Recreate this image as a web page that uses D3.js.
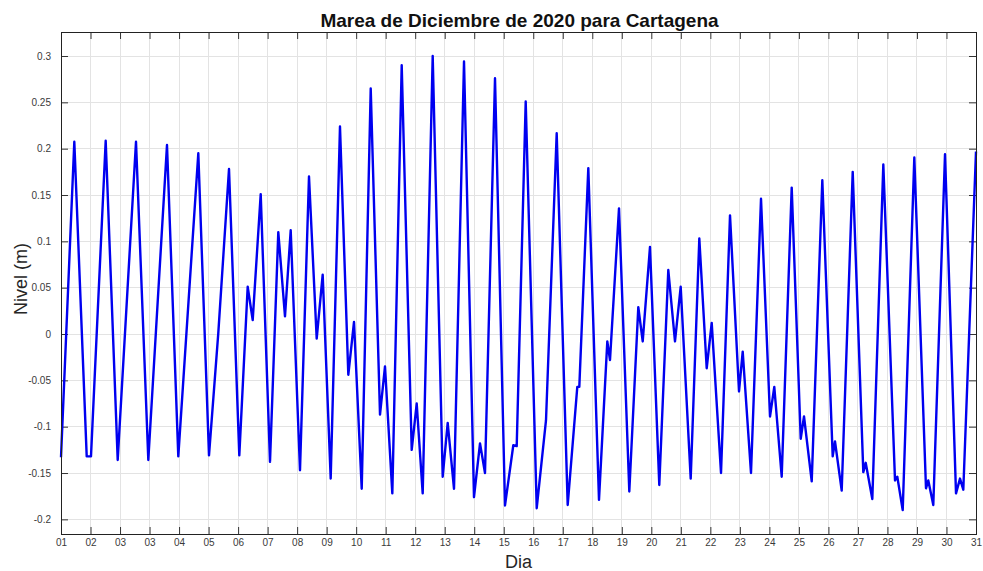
<!DOCTYPE html>
<html>
<head>
<meta charset="utf-8">
<script src="https://cdn.jsdelivr.net/npm/d3@7"></script>
<style>
html,body{margin:0;padding:0;background:#fff;}
svg{display:block;}
text{font-family:"Liberation Sans",Arial,Helvetica,sans-serif;}
</style>
</head>
<body>
<svg id="chart" width="983" height="571"></svg>
<script>
// Tiempo (días desde el 1 de diciembre) en los puntos de giro de la curva
const dias = [
  0.000, 0.451, 0.871, 1.016, 1.514, 1.921, 2.541, 2.958, 3.591, 3.974,
  4.652, 5.014, 5.329, 5.692, 6.041, 6.325, 6.495, 6.766, 7.081, 7.362,
  7.589, 7.782, 8.097, 8.402, 8.663, 8.866, 9.137, 9.452, 9.734, 9.927,
  10.188, 10.493, 10.808, 10.977, 11.225, 11.543, 11.882, 12.051, 12.254, 12.593,
  12.932, 13.101, 13.315, 13.654, 13.992, 14.196, 14.365, 14.704, 15.043, 15.324,
  15.439, 15.744, 16.117, 16.432, 16.794, 17.167, 17.492, 17.560, 17.865, 18.227,
  18.509, 18.600, 18.905, 19.254, 19.559, 19.708, 19.955, 20.270, 20.575, 20.802,
  20.995, 21.334, 21.626, 21.876, 22.046, 22.361, 22.666, 22.971, 23.096, 23.377,
  23.716, 24.021, 24.166, 24.417, 24.756, 25.061, 25.173, 25.434, 25.793, 26.145,
  26.223, 26.450, 26.823, 27.182, 27.263, 27.487, 27.860, 28.256, 28.334, 28.517,
  28.910, 29.306, 29.384, 29.553, 29.950, 30.323, 30.458, 30.570, 31.000
];
// Nivel del mar (m)
const nivel = [
  -0.133, 0.2075, -0.132, -0.132, 0.2086, -0.136, 0.2075, -0.136, 0.204, -0.132,
  0.195, -0.131, 0.001, 0.178, -0.131, 0.051, 0.015, 0.151, -0.138, 0.110,
  0.019, 0.112, -0.147, 0.170, -0.005, 0.064, -0.156, 0.224, -0.044, 0.013,
  -0.167, 0.265, -0.087, -0.035, -0.172, 0.290, -0.125, -0.075, -0.172, 0.300,
  -0.154, -0.096, -0.167, 0.294, -0.176, -0.118, -0.150, 0.276, -0.185, -0.120,
  -0.121, 0.251, -0.188, -0.093, 0.2166, -0.1845, -0.057, -0.057, 0.179, -0.179,
  -0.008, -0.028, 0.1356, -0.170, 0.029, -0.008, 0.094, -0.163, 0.069, -0.008,
  0.051, -0.156, 0.103, -0.037, 0.012, -0.150, 0.128, -0.062, -0.019, -0.150,
  0.146, -0.089, -0.057, -0.154, 0.158, -0.113, -0.089, -0.159, 0.166, -0.132,
  -0.116, -0.169, 0.175, -0.149, -0.139, -0.178, 0.183, -0.158, -0.154, -0.190,
  0.1905, -0.1665, -0.158, -0.1845, 0.194, -0.172, -0.156, -0.168, 0.197
];
// Etiquetas del eje X (tal como aparecen)
const xTickLabels = ["01","02","03","03","04","05","06","07","08","09","10",
  "11","12","13","14","15","16","17","18","19","20","21","22","23","24","25",
  "26","27","28","29","30","31"];
const yTicks = [-0.2, -0.15, -0.1, -0.05, 0, 0.05, 0.1, 0.15, 0.2, 0.25, 0.3];
const yTickLabels = ["-0.2","-0.15","-0.1","-0.05","0","0.05","0.1","0.15","0.2","0.25","0.3"];
const titulo = "Marea de Diciembre de 2020 para Cartagena";
const xLabel = "Dia";
const yLabel = "Nivel (m)";

const L = 61, R = 976, T = 32, B = 534;
const svg = d3.select("#chart");
const x = d3.scaleLinear().domain([0, xTickLabels.length - 1]).range([L, R]);
const y = d3.scaleLinear().domain([-0.2158, 0.3259]).range([B, T]);
const xTickVals = xTickLabels.map((d, i) => i);

// grid
const grid = svg.append("g");
grid.selectAll(".gx").data(xTickVals).join("line")
  .attr("x1", d => x(d)).attr("x2", d => x(d)).attr("y1", T).attr("y2", B)
  .attr("stroke", "#e3e3e3").attr("stroke-width", 1).attr("shape-rendering", "crispEdges");
grid.selectAll(".gy").data(yTicks).join("line")
  .attr("x1", L).attr("x2", R).attr("y1", d => y(d)).attr("y2", d => y(d))
  .attr("stroke", "#e3e3e3").attr("stroke-width", 1).attr("shape-rendering", "crispEdges");

// axes (ticks inside)
const tl = 7;
const xAxisB = d3.axisBottom(x).tickValues(xTickVals).tickFormat((d, i) => xTickLabels[i])
  .tickSizeInner(-tl).tickSizeOuter(0).tickPadding(5);
const gxb = svg.append("g").attr("transform", `translate(0,${B})`).call(xAxisB);
const xAxisT = d3.axisTop(x).tickValues(xTickVals).tickFormat("").tickSizeInner(-tl).tickSizeOuter(0);
const gxt = svg.append("g").attr("transform", `translate(0,${T})`).call(xAxisT);
const yAxisL = d3.axisLeft(y).tickValues(yTicks).tickFormat((d, i) => yTickLabels[i])
  .tickSizeInner(-tl).tickSizeOuter(0).tickPadding(tl + 3);
const gyl = svg.append("g").attr("transform", `translate(${L},0)`).call(yAxisL);
const yAxisR = d3.axisRight(y).tickValues(yTicks).tickFormat("").tickSizeInner(-tl).tickSizeOuter(0);
const gyr = svg.append("g").attr("transform", `translate(${R},0)`).call(yAxisR);
[gxb, gxt, gyl, gyr].forEach(g => {
  g.select(".domain").remove();
  g.selectAll(".tick line").attr("stroke", "#333").attr("stroke-width", 1);
  g.selectAll(".tick text").attr("fill", "#3a3a3a").style("font-size", "10px")
    .style("font-family", "'Liberation Sans', Arial, sans-serif");
});

// data line
const line = d3.line().x((d, i) => x(dias[i])).y(d => y(d));
svg.append("path").datum(nivel).attr("d", line)
  .attr("fill", "none").attr("stroke", "#0000f0").attr("stroke-width", 2.4)
  .attr("stroke-linejoin", "round");

// frame
svg.append("rect").attr("x", L).attr("y", T).attr("width", R - L).attr("height", B - T)
  .attr("fill", "none").attr("stroke", "#222").attr("stroke-width", 1).attr("shape-rendering", "crispEdges");

// title & labels
svg.append("text").attr("x", (L + R) / 2 + 1).attr("y", 27).attr("text-anchor", "middle")
  .style("font-size", "19px").style("font-weight", "bold").attr("fill", "#111").text(titulo);
svg.append("text").attr("x", (L + R) / 2).attr("y", 568).attr("text-anchor", "middle")
  .style("font-size", "18px").attr("fill", "#262626").text(xLabel);
svg.append("text").attr("transform", `translate(27,${(T + B) / 2 - 4}) rotate(-90)`).attr("text-anchor", "middle")
  .style("font-size", "18px").attr("fill", "#262626").text(yLabel);
</script>
</body>
</html>
